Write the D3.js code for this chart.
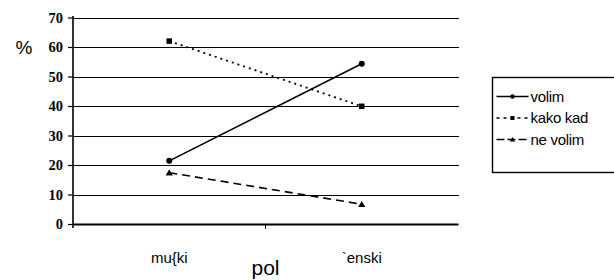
<!DOCTYPE html>
<html>
<head>
<meta charset="utf-8">
<script src="https://cdn.jsdelivr.net/npm/d3@7"></script>
<style>
  body { margin: 0; background: #fff; }
</style>
</head>
<body>
<svg id="chart" width="614" height="280"></svg>
<script>
let svg = d3.select("#chart");

//! DATA
let categories = ["mu{ki", "`enski"];
let seriesNames = ["volim", "kako kad", "ne volim"];
let volim = [21.4, 54.3];
let kakoKad = [62, 39.9];
let neVolim = [17.4, 6.7];
let yTicks = [0, 10, 20, 30, 40, 50, 60, 70];

let series = [
    { name: seriesNames[0], values: volim, dash: null, marker: "circle" },
    { name: seriesNames[1], values: kakoKad, dash: "2,4", marker: "square" },
    { name: seriesNames[2], values: neVolim, dash: "8,5", marker: "triangle" }
];

let sans = "Liberation Sans, Arial, sans-serif";
let serif = "Liberation Serif, DejaVu Serif, serif";

//? Scales
let x = d3.scaleBand().domain(categories).range([73, 458]);
let y = d3.scaleLinear().domain([0, 70]).range([224, 17.5]);

//? Gridlines
svg.append("g")
    .attr("shape-rendering", "crispEdges")
    .selectAll("line")
    .data(yTicks.filter(d => d > 0))
    .enter()
    .append("line")
    .attr("x1", 73).attr("x2", 459)
    .attr("y1", d => Math.round(y(d)) + 0.5).attr("y2", d => Math.round(y(d)) + 0.5)
    .attr("stroke", "#000").attr("stroke-width", 1.2);

//? Y axis (labels drawn separately so the serif bold face sticks)
let yAxis = svg.append("g")
    .attr("transform", "translate(73,0)")
    .call(d3.axisLeft(y).tickValues(yTicks).tickSize(5).tickFormat(""));
yAxis.select(".domain").attr("stroke-width", 1.6).attr("d", "M0,16V228");
yAxis.selectAll("line").attr("stroke-width", 1.2);

svg.append("g")
    .selectAll("text")
    .data(yTicks)
    .enter()
    .append("text")
    .attr("x", 63)
    .attr("y", d => y(d) + 5)
    .attr("text-anchor", "end")
    .attr("font-family", serif)
    .attr("font-weight", "700")
    .attr("font-size", 14.5)
    .attr("fill", "#000")
    .text(d => d);

//? X axis
let xAxis = svg.append("g")
    .attr("transform", "translate(0,224)")
    .call(d3.axisBottom(x).tickSize(0).tickPadding(0));
xAxis.attr("font-family", sans)
    .attr("font-size", 15);
xAxis.select(".domain").attr("stroke-width", 1.8);
xAxis.selectAll("text")
    .attr("dy", "39px")
    .attr("fill", "#000");
svg.append("line")
    .attr("x1", x.range()[0] + x.step()).attr("x2", x.range()[0] + x.step())
    .attr("y1", 224).attr("y2", 229)
    .attr("stroke", "#000");

svg.append("text")
    .attr("x", 24).attr("y", 54)
    .attr("text-anchor", "middle")
    .attr("font-family", sans)
    .attr("font-size", 19)
    .text("%");

svg.append("text")
    .attr("x", x.range()[0] + x.step()).attr("y", 275)
    .attr("text-anchor", "middle")
    .attr("font-family", sans)
    .attr("font-size", 21)
    .text("pol");

//? Markers
function drawMarker(g, type, cx, cy, s) {
    if (type === "circle") {
        g.append("circle").attr("cx", cx).attr("cy", cy).attr("r", s * 0.55).attr("fill", "#000");
    } else if (type === "square") {
        g.append("rect").attr("x", cx - s / 2).attr("y", cy - s / 2)
            .attr("width", s).attr("height", s).attr("fill", "#000");
    } else {
        g.append("path")
            .attr("d", `M${cx},${cy - s * 0.6}L${cx + s * 0.65},${cy + s * 0.5}L${cx - s * 0.65},${cy + s * 0.5}Z`)
            .attr("fill", "#000");
    }
}

//? Lines
let line = d3.line()
    .x((d, i) => x(categories[i]) + x.bandwidth() / 2)
    .y(d => y(d));

series.forEach(s => {
    let g = svg.append("g");
    g.append("path")
        .datum(s.values)
        .attr("d", line)
        .attr("fill", "none")
        .attr("stroke", "#000")
        .attr("stroke-width", s.dash === "2,4" ? 1.8 : 1.6)
        .attr("stroke-dasharray", s.dash);
    s.values.forEach((v, i) => {
        drawMarker(g, s.marker, x(categories[i]) + x.bandwidth() / 2, y(v), 5.5);
    });
});

//? Legend
let legend = svg.append("g").attr("transform", "translate(492.5,77.5)");
legend.append("rect")
    .attr("x", 0).attr("y", 0).attr("width", 140).attr("height", 95)
    .attr("fill", "#fff").attr("stroke", "#000").attr("stroke-width", 1.4);

let rowY = d3.scalePoint().domain(seriesNames).range([19, 62]);
series.forEach(s => {
    let yy = rowY(s.name);
    legend.append("line")
        .attr("x1", 4).attr("x2", 36)
        .attr("y1", yy).attr("y2", yy)
        .attr("stroke", "#000").attr("stroke-width", 1.4)
        .attr("stroke-dasharray", s.dash === "2,4" ? "3,4" : s.dash === "8,5" ? "8,3" : null);
    drawMarker(legend, s.marker, 20, yy, 4);
    legend.append("text")
        .attr("x", 38).attr("y", yy + 5)
        .attr("font-family", sans)
        .attr("font-size", 15)
        .attr("letter-spacing", "-0.3")
        .text(s.name);
});
</script>
</body>
</html>
